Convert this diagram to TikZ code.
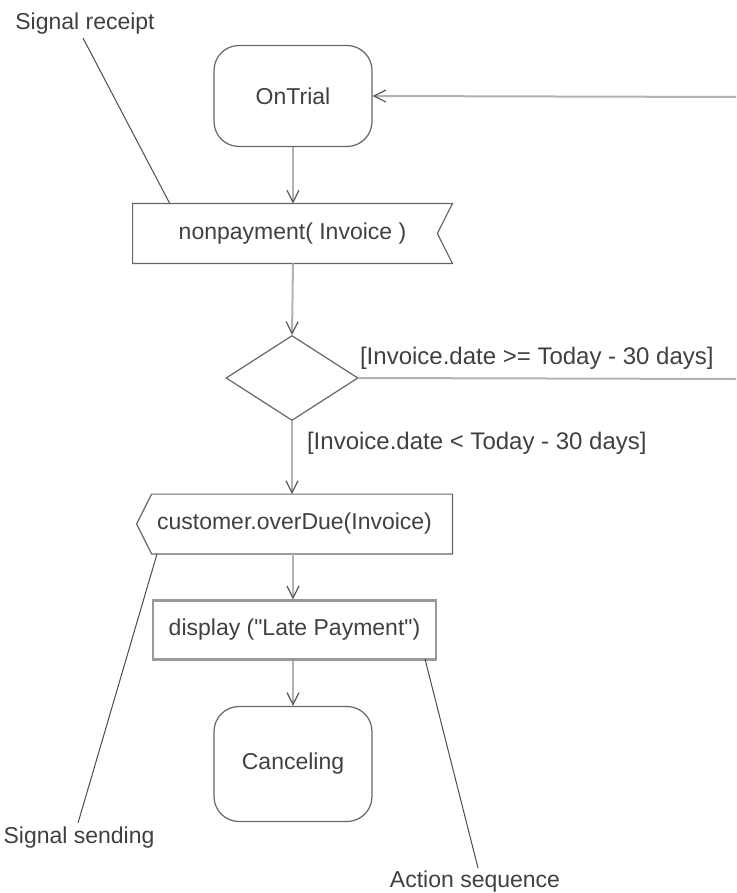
\documentclass[tikz,border=0pt]{standalone}
\usepackage{fontspec}
\setmainfont{Liberation Sans}
\usetikzlibrary{shapes.geometric,arrows.meta}

\begin{document}
\begin{tikzpicture}[x=.5pt,y=-.5pt,
    every node/.style={font=\fontsize{11.5}{13}\selectfont,text=black!75},
    state/.style={draw=black!60,line width=.6pt,rounded corners=12.5pt,
                  minimum width=79pt,inner sep=0pt},
    action/.style={minimum height=29.5pt,inner sep=0pt},
    outline/.style={draw=black!60,line width=.6pt},
    flow/.style={draw=black!30,line width=1pt,
                 -{Straight Barb[length=6pt,width=6pt,color=black!65,line width=.6pt]}},
    guard/.style={anchor=west,font=\fontsize{12}{14}\selectfont},
    note/.style={draw=black!70,line width=.5pt}]
  \useasboundingbox (0,0) rectangle (736,893);
  %
  \node[state,minimum height=50.5pt] (ontrial) at (293,96) {OnTrial};
  \node[action,minimum width=159.5pt] (nonpay) at (292.5,233.5) {nonpayment( Invoice )};
  \draw[outline] (nonpay.north west) -- (nonpay.north east)
        -- ([xshift=-7.5pt]nonpay.east) -- (nonpay.south east)
        -- (nonpay.south west) -- cycle;
  \node[outline,diamond,inner sep=0pt,
        minimum width=66pt,minimum height=42.5pt] (choice) at (292,378) {};
  \node[action,minimum width=157.5pt] (overdue) at (294.5,524) {customer.overDue(Invoice)};
  \draw[outline] ([xshift=7.5pt]overdue.north west) -- (overdue.north east)
        -- (overdue.south east) -- ([xshift=7.5pt]overdue.south west)
        -- (overdue.west) -- cycle;
  \node[action,draw=black!40,line width=1.2pt,minimum width=141.5pt] (display)
        at (294.5,630) {display (\textquotedbl Late Payment\textquotedbl)};
  \node[state,minimum height=57.5pt] (cancel) at (293,764) {Canceling};
  %
  \coordinate (loopin) at (736,97);
  \coordinate (loopout) at (736,379);
  \draw[flow] (ontrial.south) -- (ontrial.south |- nonpay.north);
  \draw[flow] (nonpay.south -| ontrial.south) -- (choice.north);
  \draw[flow] (choice.south) -- (choice.south |- overdue.north);
  \draw[flow] (overdue.south -| ontrial.south) -- (ontrial.south |- display.north);
  \draw[flow] (display.south -| ontrial.south) -- (cancel.north);
  \draw[flow] (loopin) -- (ontrial.east);
  \draw[flow,-] (choice.east) -- (loopout);
  %
  \node[guard] (guardok) at (353,358) {[Invoice.date >= Today - 30 days]};
  \node[guard] (guardlate) at (300,443) {[Invoice.date < Today - 30 days]};
  %
  \node (receipt) at (85,24) {Signal receipt};
  \node (sending) at (79,838) {Signal sending};
  \node (sequence) at (475,882) {Action sequence};
  \coordinate (receipt end) at (170,204);
  \coordinate (sending end) at (157,554);
  \coordinate (sequence end) at (425,659);
  \draw[note] (83,38) -- (receipt end);
  \draw[note] (sending end) -- (78,823);
  \draw[note] (sequence end) -- (478,868);
\end{tikzpicture}
\end{document}
